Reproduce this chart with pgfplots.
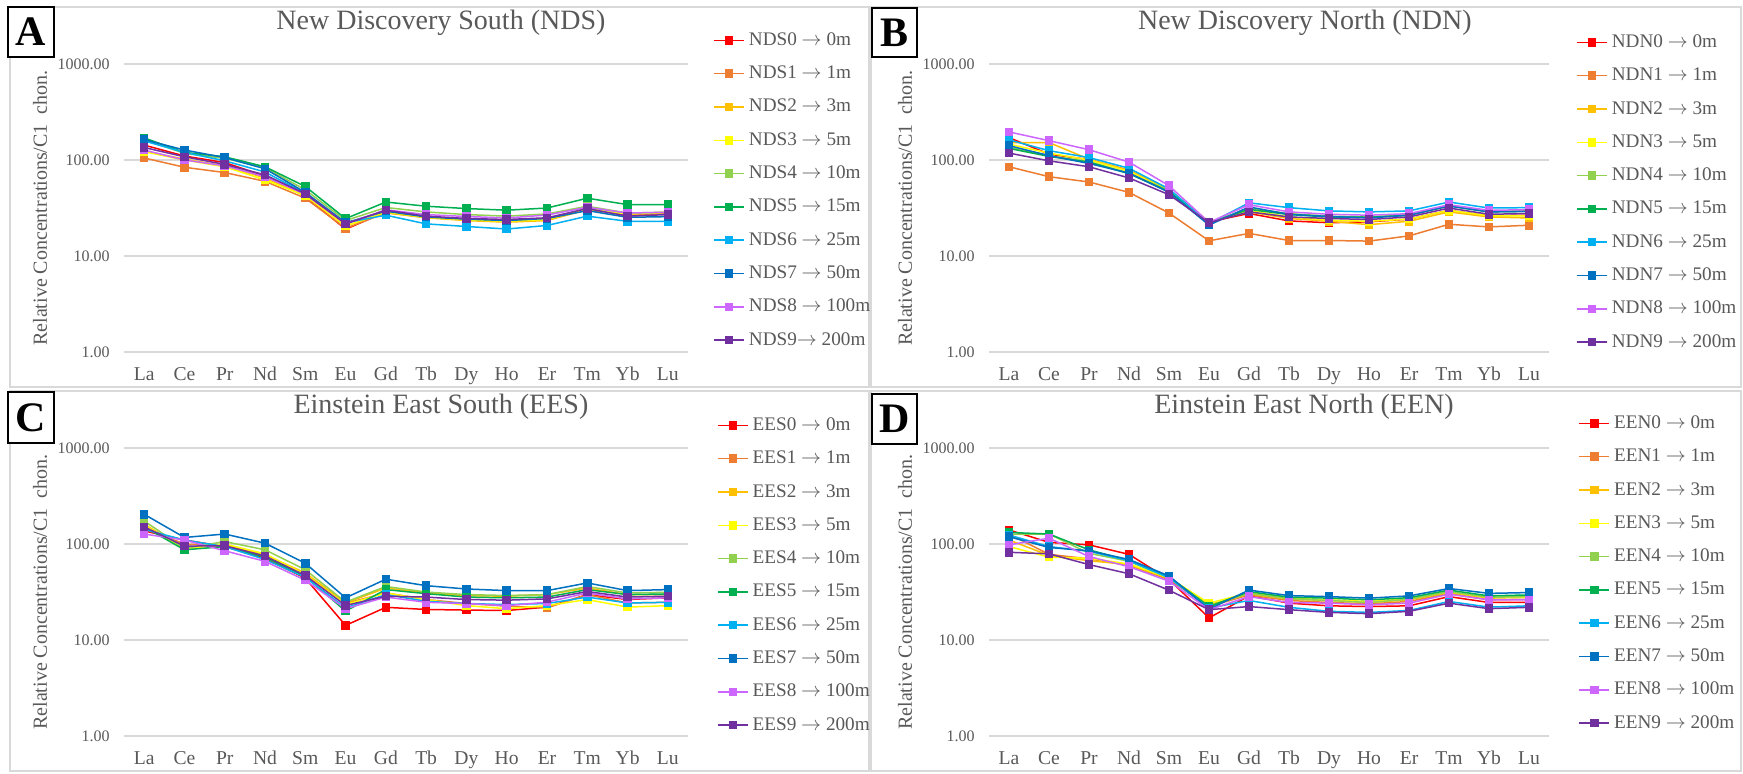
\documentclass[border=0pt]{standalone}
\usepackage{fontspec}
\setmainfont{Liberation Serif}
\usepackage{pgfplots}
\usepackage{pgfplotstable}
\pgfplotsset{compat=1.18}

\definecolor{c0}{HTML}{FF0000}
\definecolor{c1}{HTML}{ED7D31}
\definecolor{c2}{HTML}{FFC000}
\definecolor{c3}{HTML}{FFFF00}
\definecolor{c4}{HTML}{92D050}
\definecolor{c5}{HTML}{00B050}
\definecolor{c6}{HTML}{00B0F0}
\definecolor{c7}{HTML}{0070C0}
\definecolor{c8}{HTML}{CC66FF}
\definecolor{c9}{HTML}{7030A0}
\definecolor{gridgray}{HTML}{D9D9D9}
\definecolor{txtgray}{HTML}{595959}

\newcommand{\ar}{\ensuremath{\rightarrow}}

% New Discovery South
\pgfplotstableread{
i s0 s1 s2 s3 s4 s5 s6 s7 s8 s9
0 143 105 124 122 164 170 158 163 127 135
1 110 84 102 100 117 120 120 127 100 108
2 94 74 87 85 104 108 98 106 87 90
3 68 60 65 62 83 85 75 81 67 70
4 42 40 42.5 42.5 49 53 45 46 44 44.5
5 19 19.4 20.5 20.5 23.4 24.5 22.2 22.2 21.6 21.6
6 28.8 28.2 28.2 28.8 32 36.5 26.6 29.3 30.3 30
7 25.3 25.3 25 25.3 28.8 33 21.6 25.5 27 26
8 24.2 23.8 23.4 23.8 27 31.2 20.3 24.2 25.8 24.6
9 23.4 23 22.5 23 26 30 19.1 23.4 24.9 24
10 24.6 24 23.4 24 27.4 31.6 20.8 24.6 26.7 25
11 30.4 31.2 30.4 31.2 33 40 26 29.7 32.2 31.2
12 27 27 27.4 27.4 28 34.3 23 25.3 28 26
13 27.4 27.4 28.6 28.6 28.6 34.3 23 25.7 28.6 27
}\tA

% New Discovery North
\pgfplotstableread{
i s0 s1 s2 s3 s4 s5 s6 s7 s8 s9
0 171 85 152 146 135 132 162 141 196 118
1 115 67 152 118 111 109 125 111 159 98
2 101 59 102 100 96 95 106 92 128 85
3 78 46 78 76 73 72 82 73 95 65
4 48 28 49 48 48 47 50 46 54 43.5
5 22.7 14.4 22.7 22.7 22.4 22.2 21.8 21 22.4 22.2
6 27.7 17.2 28.8 30 31.2 30.6 35.8 32.4 34.2 28.8
7 23.2 14.5 24.6 25.5 27.6 27 31.9 27.2 28.8 25.5
8 22.2 14.5 23 23.6 26 25.5 29.5 25.8 27.2 24.6
9 22.7 14.3 21.2 23 25.5 25.3 28.8 24.9 26.6 24
10 24.2 16.2 23 24.2 27 26.6 29.5 26.6 27.6 25.5
11 29.9 21.4 28.8 29.9 33.7 33.2 36.5 33.2 34.2 31.6
12 26.2 20.1 25.5 26.2 29.2 28.8 31.6 28.8 29.9 27.2
13 26.6 20.9 24.9 26.2 29.6 29.2 31.9 29.2 30.4 27.7
}\tB

% Einstein East South
\pgfplotstableread{
i s0 s1 s2 s3 s4 s5 s6 s7 s8 s9
0 137 145 161 157 174 151 142 204 127 151
1 110 100 90 89 90 87 110 117 110 95
2 94 95 98 100 106 94 94 127 85 96
3 71 74 77 79 87 73 69 102 66 75
4 44 48 50 48 54 46 45 63 42 47
5 14.2 24 24.3 23.4 24.8 20 21.6 27.5 21.2 22.9
6 21.9 31 34.8 30.9 36.1 33.5 29.7 43 28 28.6
7 20.8 26.4 30.9 26.4 31.6 30.4 25.3 36.8 24.7 28
8 20.5 24 29 22.8 29.7 28 24 34 24 26.4
9 20.3 22.5 28.6 21.2 29.1 27.5 23.4 32.7 22.8 26
10 22 21.6 29.7 22.8 29.7 28 24 32.7 24.8 26.8
11 29.7 29.7 34.8 26.4 36.1 33.5 28 39.3 30.9 32
12 26.4 24.3 29.7 22 30.9 29.7 24.3 32.7 26.8 28
13 27.5 24.7 29.7 22.8 31.4 30.2 24.7 33.5 27.5 28.6
}\tC

% Einstein East North
\pgfplotstableread{
i s0 s1 s2 s3 s4 s5 s6 s7 s8 s9
0 140 127 110 94 127 132 124 119 98 82
1 104 78 76 73 127 127 94 92 115 79
2 98 70 67 71 80 87 84 85 74 61
3 78 60 61 62 66 67 67 69 58 49
4 42.6 42.6 43.7 44.4 44.7 45.5 44.4 46.5 41 33
5 17 22.3 23.2 24.2 22.7 22.3 21.5 21 20.7 20.7
6 28.8 29.5 30.2 31 30.6 31.9 25.8 33.1 28.3 22.3
7 24.2 25.8 26.6 27.3 26.9 27.9 21.9 29 24.6 20.7
8 22.7 24.6 25.8 26.2 25.8 27.3 19.9 28.3 24.2 19.4
9 22.3 23.8 24.6 25.2 24.6 26.2 19.4 27.3 23.3 18.8
10 22.7 25.2 26.2 26.9 26.6 27.6 20.3 28.8 24.2 19.9
11 28.3 30.6 31.2 31.9 31.9 33.1 25.2 34.4 30 24.2
12 24.6 26.2 27.3 27.9 27.9 28.8 22 30.6 26.2 21.2
13 24.6 26.6 27.9 27.9 28.3 29.5 22.7 31.2 26.2 21.9
}\tD

\pgfplotsset{
  reeaxis/.style={
    scale only axis, height=144pt,
    ymin=1, ymax=1000,
    xmin=-0.5, xmax=13.5, xtick={0,...,13},
    xticklabels={La,Ce,Pr,Nd,Sm,Eu,Gd,Tb,Dy,Ho,Er,Tm,Yb,Lu},
    ytick={1,10,100,1000}, yticklabels={1.00,10.00,100.00,1000.00},
    ymajorgrids, grid style={draw=gridgray, line width=0.75pt},
    axis line style={draw=none}, tick style={draw=none},
    xticklabel style={font=\fontsize{9.8}{10}\selectfont, text=txtgray, inner sep=0pt, text height=7pt, text depth=2pt, yshift=-7pt},
    yticklabel style={font=\fontsize{8}{9}\selectfont, text=txtgray, inner sep=0pt, xshift=-7pt},
    ylabel={Relative Concentrations/C1\ \ chon.},
    every axis y label/.style={at={(axis description cs:-0.149,0.5)}, rotate=90, anchor=center, font=\fontsize{10}{12}\selectfont, text=txtgray},
    title style={at={(axis description cs:0.562,1.10)}, anchor=center, font=\fontsize{14}{16}\selectfont, text=txtgray},
    legend cell align=left,
    legend image code/.code={\draw[mark repeat=2,mark phase=2,##1] plot coordinates {(0pt,0pt) (7.5pt,0pt) (15pt,0pt)};},
    legend style={draw=none, fill=none, inner sep=0pt, anchor=north west, row sep=7.65pt, column sep=2pt,
      font=\fontsize{9.6}{11}\selectfont, nodes={inner sep=0pt, text height=7pt, text depth=2pt, text=txtgray}},
    cycle list={
      {c0, mark=square*, mark options={solid, fill=c0}},
      {c1, mark=square*, mark options={solid, fill=c1}},
      {c2, mark=square*, mark options={solid, fill=c2}},
      {c3, mark=square*, mark options={solid, fill=c3}},
      {c4, mark=square*, mark options={solid, fill=c4}},
      {c5, mark=square*, mark options={solid, fill=c5}},
      {c6, mark=square*, mark options={solid, fill=c6}},
      {c7, mark=square*, mark options={solid, fill=c7}},
      {c8, mark=square*, mark options={solid, fill=c8}},
      {c9, mark=square*, mark options={solid, fill=c9}}
    },
    every axis plot/.append style={line width=0.75pt, mark size=1.75pt},
  }
}

\newcommand{\tenplots}[1]{%
  \addplot table[x=i,y=s0]{#1};
  \addplot table[x=i,y=s1]{#1};
  \addplot table[x=i,y=s2]{#1};
  \addplot table[x=i,y=s3]{#1};
  \addplot table[x=i,y=s4]{#1};
  \addplot table[x=i,y=s5]{#1};
  \addplot table[x=i,y=s6]{#1};
  \addplot table[x=i,y=s7]{#1};
  \addplot table[x=i,y=s8]{#1};
  \addplot table[x=i,y=s9]{#1};
}

\begin{document}
\begin{tikzpicture}[x=0.5pt,y=0.5pt]
\useasboundingbox (0,0) rectangle (1743,773);
\fill[white] (0,0) rectangle (1743,773);
% panel frames
\draw[gridgray, line width=0.75pt] (10,766) rectangle (869,386);
\draw[gridgray, line width=0.75pt] (871,766) rectangle (1741,386);
\draw[gridgray, line width=0.75pt] (10,382) rectangle (869,2);
\draw[gridgray, line width=0.75pt] (871,382) rectangle (1741,2);

% A
\begin{semilogyaxis}[reeaxis, width=282pt, at={(62pt,210.5pt)}, anchor=south west,
  title={New Discovery South (NDS)},
  legend style={at={(axis description cs:1.0443,1.1146)}}]
\tenplots{\tA}
\legend{NDS0 \ar{} 0m, NDS1 \ar{} 1m, NDS2 \ar{} 3m, NDS3 \ar{} 5m, NDS4 \ar{} 10m, NDS5 \ar{} 15m, NDS6 \ar{} 25m, NDS7 \ar{} 50m, NDS8 \ar{} 100m, NDS9\ar{} 200m}
\end{semilogyaxis}

% B
\begin{semilogyaxis}[reeaxis, width=280pt, at={(494.5pt,210.5pt)}, anchor=south west,
  title={New Discovery North (NDN)},
  every axis y label/.append style={at={(axis description cs:-0.15,0.5)}},
  title style={at={(axis description cs:0.564,1.10)}},
  legend style={at={(axis description cs:1.048,1.1076)}}]
\tenplots{\tB}
\legend{NDN0 \ar{} 0m, NDN1 \ar{} 1m, NDN2 \ar{} 3m, NDN3 \ar{} 5m, NDN4 \ar{} 10m, NDN5 \ar{} 15m, NDN6 \ar{} 25m, NDN7 \ar{} 50m, NDN8 \ar{} 100m, NDN9 \ar{} 200m}
\end{semilogyaxis}

% C
\begin{semilogyaxis}[reeaxis, width=282pt, at={(62pt,18.5pt)}, anchor=south west,
  title={Einstein East South (EES)},
  legend style={at={(axis description cs:1.051,1.111)}}]
\tenplots{\tC}
\legend{EES0 \ar{} 0m, EES1 \ar{} 1m, EES2 \ar{} 3m, EES3 \ar{} 5m, EES4 \ar{} 10m, EES5 \ar{} 15m, EES6 \ar{} 25m, EES7 \ar{} 50m, EES8 \ar{} 100m, EES9 \ar{} 200m}
\end{semilogyaxis}

% D
\begin{semilogyaxis}[reeaxis, width=280pt, at={(494.5pt,18.5pt)}, anchor=south west,
  title={Einstein East North (EEN)},
  every axis y label/.append style={at={(axis description cs:-0.15,0.5)}},
  title style={at={(axis description cs:0.5625,1.10)}},
  legend style={at={(axis description cs:1.052,1.118)}}]
\tenplots{\tD}
\legend{EEN0 \ar{} 0m, EEN1 \ar{} 1m, EEN2 \ar{} 3m, EEN3 \ar{} 5m, EEN4 \ar{} 10m, EEN5 \ar{} 15m, EEN6 \ar{} 25m, EEN7 \ar{} 50m, EEN8 \ar{} 100m, EEN9 \ar{} 200m}
\end{semilogyaxis}

% panel letters
\node[draw=black, line width=1pt, fill=white, minimum width=23pt, minimum height=25pt, inner sep=0pt,
  font=\fontsize{21}{21}\selectfont\bfseries] at (31,741) {A};
\node[draw=black, line width=1pt, fill=white, minimum width=22.5pt, minimum height=24.5pt, inner sep=0pt,
  font=\fontsize{21}{21}\selectfont\bfseries] at (894.5,740.5) {B};
\node[draw=black, line width=1pt, fill=white, minimum width=23pt, minimum height=25.5pt, inner sep=0pt,
  font=\fontsize{21}{21}\selectfont\bfseries] at (31,355.5) {C};
\node[draw=black, line width=1pt, fill=white, minimum width=22.5pt, minimum height=25pt, inner sep=0pt,
  font=\fontsize{21}{21}\selectfont\bfseries] at (894.5,354) {D};
\end{tikzpicture}
\end{document}
